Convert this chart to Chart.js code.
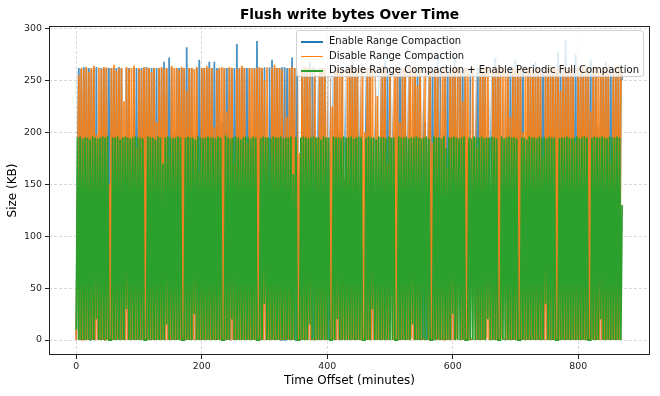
<!DOCTYPE html>
<html>
<head>
<meta charset="utf-8">
<script src="https://cdn.jsdelivr.net/npm/chart.js@4/dist/chart.umd.min.js"></script>
<style>
  html, body { margin: 0; padding: 0; background: #fff; }
  #wrap { position: relative; width: 660px; height: 396px; font-family: "DejaVu Sans", sans-serif; }
  #title { position: absolute; left: 49px; width: 601px; top: 6px; text-align: center; font-weight: bold; font-size: 13.8px; color: #000; }
  #legend { position: absolute; left: 296px; top: 30px; width: 348px; height: 47px; background: rgba(255,255,255,0.8);
            border: 1px solid #d0d0d0; border-radius: 3px; box-sizing: border-box; font-size: 10px; color: #111; }
  .item { position: absolute; left: 4px; height: 14px; line-height: 14px; white-space: nowrap; }
  .item span.swatch { position: absolute; left: 0; top: 7px; width: 22px; height: 1.5px; }
  .item span.label { position: absolute; left: 28px; top: 0; }
</style>
</head>
<body>
<div id="wrap">
  <canvas id="chart" width="660" height="396"></canvas>
  <div id="title">Flush write bytes Over Time</div>
  <div id="legend"></div>
</div>
<script>
// sampling step of the recorded series, minutes
const SAMPLE_MIN = 2;

const seriesNames = [
    'Enable Range Compaction',
    'Disable Range Compaction',
    'Disable Range Compaction + Enable Periodic Full Compaction'
];
const seriesColors = ['#1f77b4', '#ff7f0e', '#2ca02c'];
const seriesAlpha = [0.8, 0.9, 1];

const xTicks = [0, 200, 400, 600, 800];
const yTicks = [0, 50, 100, 150, 200, 250, 300];

// Enable Range Compaction (KB)
const enableRange = [
    0,155,262,0,261,0,263,0,262,0,262,0,260,0,262,0,263,0,180,0,262,
    0,262,0,261,0,262,0,262,0,262,0,262,0,263,0,262,0,190,0,262,
    0,262,0,170,0,262,0,262,0,261,0,262,0,262,0,263,0,262,0,262,
    0,262,0,262,0,262,0,262,0,268,0,262,0,272,0,262,0,200,0,262,
    0,262,0,262,0,262,0,282,0,262,0,262,0,175,0,262,0,270,0,262,
    0,262,0,262,0,268,0,262,0,268,0,262,0,262,0,210,0,262,0,262,
    0,262,0,262,0,262,0,285,0,262,0,262,0,262,0,262,0,262,0,185,
    0,262,0,288,0,262,0,262,0,262,0,195,0,262,0,270,0,262,0,262,
    0,262,0,262,0,262,0,262,0,262,0,272,0,262,0,262,0,160,0,262,
    0,262,0,262,0,268,0,262,0,262,0,262,0,262,0,262,0,262,0,262,
    0,275,0,262,0,262,0,262,0,200,0,262,0,262,0,262,0,262,0,270,
    0,262,0,262,0,262,0,262,0,262,0,262,0,262,0,180,0,262,0,262,
    0,262,0,262,0,270,0,262,0,262,0,262,0,262,0,262,0,262,0,262,
    0,262,0,268,0,262,0,262,0,262,0,262,0,262,0,262,0,210,0,262,
    0,262,0,262,0,262,0,274,0,262,0,262,0,262,0,262,0,262,0,262,
    0,270,0,262,0,262,0,262,0,262,0,190,0,262,0,262,0,262,0,262,
    0,262,0,262,0,262,0,262,0,262,0,262,0,272,0,262,0,262,0,262,
    0,262,0,262,0,262,0,262,0,270,0,262,0,262,0,262,0,175,0,262,
    0,262,0,262,0,268,0,262,0,262,0,262,0,262,0,262,0,262,0,262,
    0,262,0,278,0,262,0,262,0,289,0,262,0,262,0,262,0,275,0,262,
    0,262,0,262,0,262,0,262,0,270,0,262,0,262,0,205,0,262,0,262,
    0,268,0,262,0,262,0,262,0,262,0,262,0,262,250
];

// Disable Range Compaction (KB)
const disableRange = [
    0,132,255,0,262,0,260,0,263,0,258,0,262,0,264,0,198,0,262,0,261,
    0,263,0,262,0,150,0,262,0,265,0,259,0,262,0,262,0,230,0,263,
    0,261,0,262,0,264,0,185,0,262,0,260,0,263,0,262,0,262,0,258,
    0,262,0,210,0,262,0,263,0,261,0,262,0,175,0,264,0,262,0,262,
    0,260,0,263,0,262,0,240,0,262,0,262,0,261,0,263,0,160,0,262,
    0,262,0,264,0,262,0,262,0,205,0,260,0,262,0,263,0,262,0,220,
    0,263,0,262,0,170,0,261,0,262,0,264,0,262,0,190,0,262,0,262,
    0,261,0,262,0,263,0,262,0,250,0,262,0,140,0,262,0,265,0,262,
    0,262,0,260,0,262,0,215,0,262,0,263,0,262,0,262,0,180,0,261,
    0,263,0,262,0,262,0,264,0,262,0,195,0,262,0,261,0,262,0,262,
    0,262,0,225,0,263,0,262,0,262,0,260,0,155,0,262,0,264,0,262,
    0,260,0,262,0,262,0,263,0,200,0,262,0,262,0,261,0,262,0,235,
    0,262,0,264,0,262,0,170,0,262,0,262,0,263,0,262,0,210,0,262,
    0,261,0,262,0,263,0,262,0,262,0,245,0,262,0,264,0,262,0,262,
    0,262,0,190,0,262,0,261,0,262,0,263,0,262,0,165,0,262,0,260,
    0,263,0,262,0,262,0,230,0,262,0,262,0,264,0,262,0,262,0,185,
    0,262,0,262,0,263,0,262,0,145,0,262,0,261,0,262,0,263,0,262,
    0,260,0,262,0,215,0,262,0,262,0,264,0,262,0,200,0,262,0,262,
    0,262,0,263,0,262,0,262,0,261,0,175,0,262,0,262,0,264,0,262,
    0,261,0,262,0,240,0,263,0,262,0,262,0,262,0,262,0,190,0,262,
    0,262,0,264,0,262,0,262,0,220,0,262,0,263,0,262,0,262,0,261,
    0,262,0,262,0,170,0,262,0,263,0,262,0,262,255
];

// Disable Range Compaction + Enable Periodic Full Compaction (KB)
const disablePlusFull = [
    10,195,0,196,0,194,0,195,0,195,0,193,0,196,0,195,20,194,0,195,
    0,196,0,195,0,197,0,0,0,195,0,195,0,196,0,193,0,195,0,196,
    30,195,0,194,0,195,0,196,0,195,0,195,0,194,0,0,0,196,0,195,
    0,195,0,193,0,196,0,195,0,170,0,195,15,196,0,195,0,194,0,195,
    0,196,0,195,0,0,0,194,0,196,0,195,0,195,25,193,0,196,0,195,
    0,194,0,195,0,196,0,195,0,195,0,194,0,196,0,195,0,0,0,197,
    0,195,0,194,20,195,0,196,0,195,0,193,0,195,0,196,0,195,0,194,
    0,196,0,195,0,0,0,194,0,196,35,195,0,195,0,194,0,196,0,195,
    0,195,0,196,0,194,0,195,0,195,0,196,0,160,0,195,0,0,0,195,
    0,196,0,195,0,194,15,195,0,196,0,195,0,195,0,193,0,196,0,195,
    0,195,0,0,0,196,0,195,20,195,0,194,0,196,0,195,0,195,0,196,
    0,194,0,195,0,196,0,195,0,0,0,194,0,196,0,195,30,195,0,193,
    0,196,0,195,0,195,0,194,0,196,0,195,0,195,0,0,0,196,0,195,
    0,195,0,196,0,194,0,195,15,195,0,196,0,195,0,194,0,195,0,196,
    0,194,0,0,0,196,0,195,0,195,0,194,0,196,0,185,0,195,0,195,
    25,196,0,195,0,194,0,195,0,196,0,0,0,195,0,194,0,196,0,195,
    0,195,0,196,0,194,0,195,20,195,0,196,0,195,0,194,0,0,0,196,
    0,194,0,195,0,196,0,195,0,195,0,194,0,0,0,195,0,195,0,193,
    0,196,0,195,0,195,0,194,0,196,0,195,0,195,35,194,0,196,0,195,
    0,195,0,0,0,194,0,195,0,195,0,196,0,195,0,194,0,195,0,196,
    0,194,0,195,0,196,0,195,0,0,0,194,0,196,0,195,0,195,20,196,
    0,195,0,194,0,196,0,195,0,195,0,196,0,195,0,130
];

const seriesValues = [enableRange, disableRange, disablePlusFull];

function toPoints(values) {
    return values.map((v, i) => ({ x: i * SAMPLE_MIN, y: v }));
}

function alpha(hex, a) {
    const n = parseInt(hex.slice(1), 16);
    return `rgba(${n >> 16}, ${(n >> 8) & 255}, ${n & 255}, ${a})`;
}

// html legend, matplotlib style box in the upper right
const legendEl = document.getElementById('legend');
seriesNames.forEach((name, i) => {
    const row = document.createElement('div');
    row.className = 'item';
    row.style.top = (3 + i * 14.5) + 'px';
    row.innerHTML = `<span class="swatch" style="background:${seriesColors[i]}"></span><span class="label">${name}</span>`;
    legendEl.appendChild(row);
});

// full box of spines
const framePlugin = {
    id: 'frame',
    afterDraw(chart) {
        const { ctx, chartArea: a } = chart;
        ctx.save();
        ctx.strokeStyle = '#222';
        ctx.lineWidth = 1;
        ctx.strokeRect(a.left + 0.5, a.top + 0.5, a.right - a.left - 1, a.bottom - a.top - 1);
        ctx.restore();
    }
};

const tickFont = { family: 'DejaVu Sans', size: 9.4 };
const titleFont = { family: 'DejaVu Sans', size: 12 };

new Chart(document.getElementById('chart'), {
    type: 'line',
    data: {
        datasets: seriesValues.map((vals, i) => ({
            label: seriesNames[i],
            data: toPoints(vals),
            borderColor: alpha(seriesColors[i], seriesAlpha[i]),
            borderWidth: 1.8,
            pointRadius: 0,
            // tiny tension keeps segments straight but avoids the per-pixel fast path
            tension: 0.00001,
            fill: false,
            order: 3 - i
        }))
    },
    options: {
        responsive: false,
        animation: false,
        events: [],
        layout: { padding: { top: 26, right: 10, left: 0, bottom: 0 } },
        plugins: { legend: { display: false }, title: { display: false }, tooltip: { enabled: false } },
        scales: {
            x: {
                type: 'linear',
                min: -43.5,
                max: 914.5,
                afterFit: s => { s.height = 41; },
                afterBuildTicks: s => { s.ticks = xTicks.map(v => ({ value: v })); },
                ticks: { font: tickFont, color: '#222', padding: 2, maxRotation: 0 },
                grid: { color: 'rgba(170,170,170,0.45)', tickColor: '#222', tickLength: 4, tickBorderDash: [] },
                border: { display: false, dash: [3, 2] },
                title: { display: true, text: 'Time Offset (minutes)', font: titleFont, color: '#000', padding: { bottom: 8 } }
            },
            y: {
                min: -14.4,
                max: 302.4,
                afterFit: s => { s.width = 49; },
                afterBuildTicks: s => { s.ticks = yTicks.map(v => ({ value: v })); },
                ticks: { font: tickFont, color: '#222', padding: 3 },
                grid: { color: 'rgba(170,170,170,0.45)', tickColor: '#222', tickLength: 4, tickBorderDash: [] },
                border: { display: false, dash: [3, 2] },
                title: { display: true, text: 'Size (KB)', font: titleFont, color: '#000', padding: { top: 6 } }
            }
        }
    },
    plugins: [framePlugin]
});
</script>
</body>
</html>
